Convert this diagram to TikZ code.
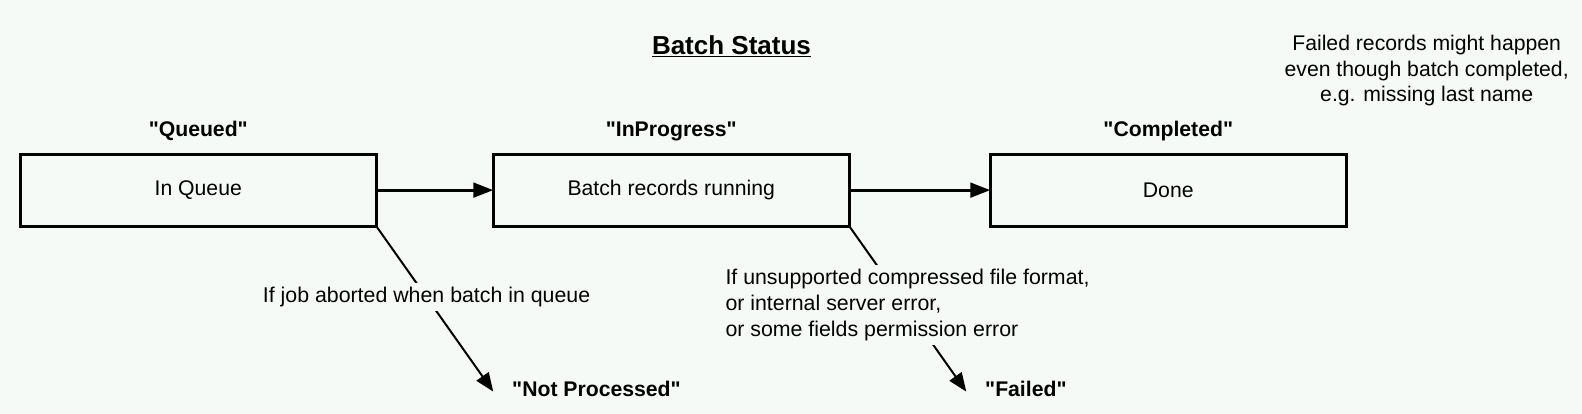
\documentclass[tikz,border=0pt]{standalone}
\usepackage{fontspec}
\setmainfont{Liberation Sans}
\usepackage{tikz}
\usetikzlibrary{arrows.meta, positioning}
\definecolor{bgc}{RGB}{246,250,247}
\newcommand{\qt}[1]{\textquotedbl#1\textquotedbl}
\tikzset{
  state/.style={rectangle, draw=black, fill=bgc, line width=2.4pt, minimum width=267pt, minimum height=54pt, outer sep=0pt, align=center, font=\fontsize{15.9}{18.9}\selectfont},
  status/.style={font=\fontsize{15.9}{18.9}\selectfont\bfseries, inner sep=0pt},
  note/.style={align=center, inner sep=0pt, font=\fontsize{15.9}{18.9}\selectfont},
  cond/.style={fill=bgc, inner sep=3pt, align=left, font=\fontsize{16}{19.65}\selectfont},
  arrow/.style={-{Triangle[length=15pt, width=11pt]}, line width=2.2pt},
  branch/.style={-{Triangle[length=14pt, width=11pt]}, line width=1.5pt},
}

\begin{document}
\begin{tikzpicture}
\useasboundingbox[fill=bgc] (0,0) rectangle (1186.5pt,-310.5pt);
\node[font=\fontsize{19.5}{23}\selectfont\bfseries] (title) at (548.6pt,-35pt) {\underline{Batch Status}};
\node[note] (nt) at (1070pt,-53pt) {Failed records might happen\\even though batch completed,\\e.g. missing last name};
% states
\node[state] (q) at (148.7pt,-142.6pt) {In Queue};
\node[state, right=87.75pt of q] (p) {Batch records running};
\node[state, right=105.75pt of p] (c) {Done};
\node[status, above=10pt of q] (ql) {\qt{Queued}};
\node[status, above=10pt of p] (pl) {\qt{InProgress}};
\node[status, above=10pt of c] (cl) {\qt{Completed}};
\draw[arrow] (q) -- (p);
\draw[arrow] (p) -- (c);
% failure branches
\path (q.south east) ++(87.75pt,-124.1pt) coordinate (npend);
\path (p.south east) ++(87.75pt,-124.1pt) coordinate (fend);
\draw[branch] (q.south east) -- node[cond, pos=0.43]{If job aborted when batch in queue} (npend);
\draw[branch] (p.south east) -- node[cond, pos=0.475, xshift=2pt]{If unsupported compressed file format,\\or internal server error,\\or some fields permission error} (fend);
\node[status, right=14pt of npend, yshift=2.25pt] (np) {\qt{Not Processed}};
\node[status, right=14pt of fend, yshift=2.25pt] (fl) {\qt{Failed}};
\end{tikzpicture}
\end{document}
